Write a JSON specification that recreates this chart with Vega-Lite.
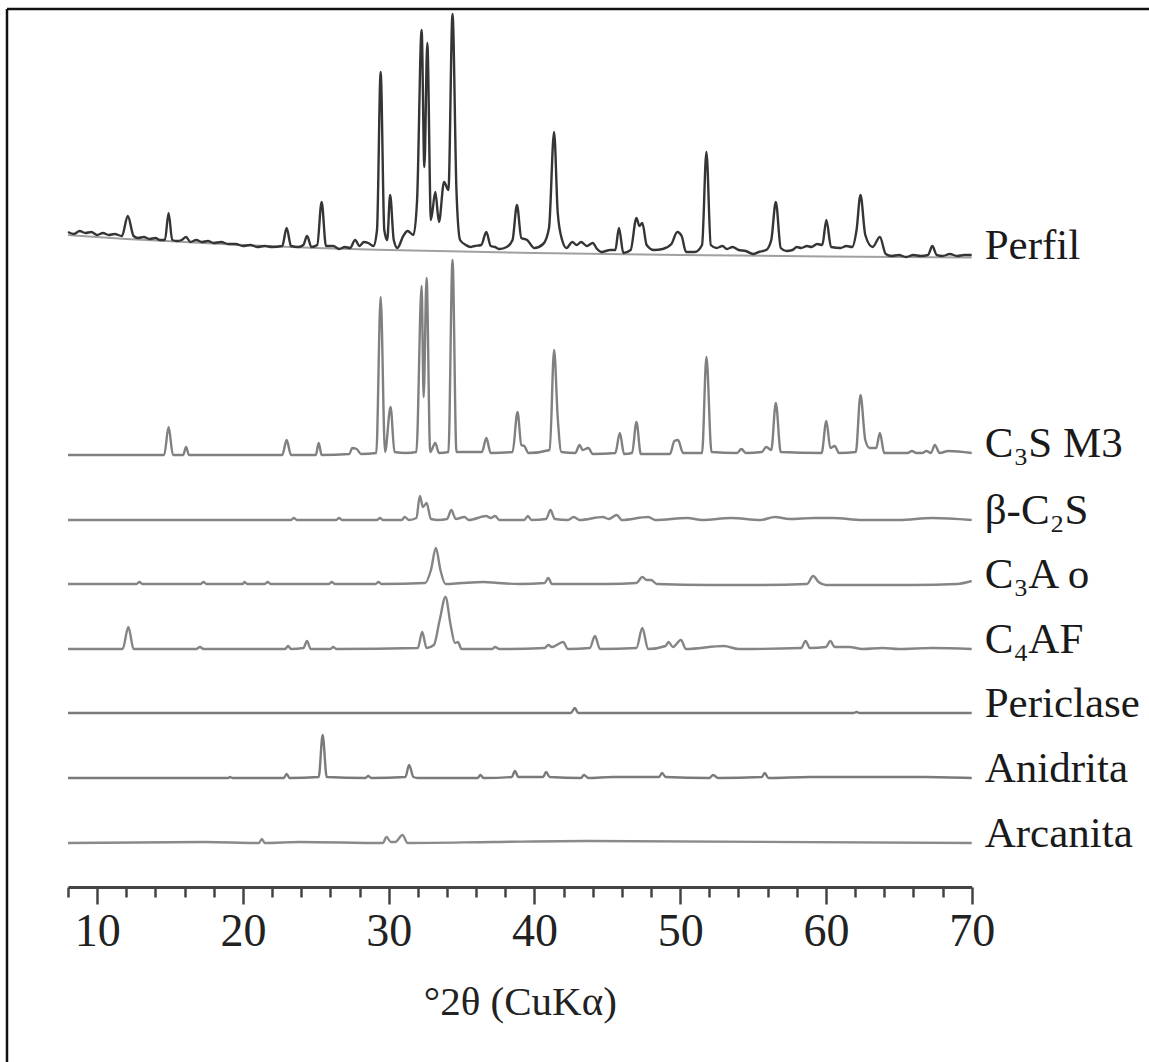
{
"$schema": "https://vega.github.io/schema/vega-lite/v6.json",
"width": 1142, "height": 1053,
"autosize": {"type": "none"},
"padding": {"left": 7, "top": 9, "right": 0, "bottom": 0},
"background": "white",
"config": {"view": {"stroke": "#111", "strokeWidth": 2.5, "strokeDash": [1142, 2195, 1053, 0]}, "font": "Liberation Serif"},
"datasets": {
"bg": [{"t":8,"v":652},{"t":12,"v":648},{"t":16,"v":645},{"t":20,"v":642},{"t":25,"v":639},{"t":30,"v":637},{"t":40,"v":634},{"t":50,"v":632},{"t":60,"v":630.5},{"t":70,"v":629.5}],
"labels": [{"label":"Perfil","t":70,"v":632},{"label":"C₃S M3","t":70,"v":434},{"label":"β-C₂S","t":70,"v":367},{"label":"C₃A o","t":70,"v":303},{"label":"C₄AF","t":70,"v":238},{"label":"Periclase","t":70,"v":174},{"label":"Anidrita","t":70,"v":109},{"label":"Arcanita","t":70,"v":44}],
"trace": [
{"p":"Perfil","t":8,"v":655},{"p":"Perfil","t":8.4,"v":653},{"p":"Perfil","t":8.8,"v":656},{"p":"Perfil","t":9.2,"v":654},{"p":"Perfil","t":9.6,"v":655},{"p":"Perfil","t":10,"v":652},{"p":"Perfil","t":10.4,"v":654},{"p":"Perfil","t":10.8,"v":652},{"p":"Perfil","t":11.2,"v":653},{"p":"Perfil","t":11.7,"v":651},{"p":"Perfil","t":12.1,"v":671},{"p":"Perfil","t":12.5,"v":651},{"p":"Perfil","t":12.8,"v":649},{"p":"Perfil","t":13.2,"v":650},{"p":"Perfil","t":13.6,"v":648},{"p":"Perfil","t":14,"v":649},{"p":"Perfil","t":14.3,"v":647},{"p":"Perfil","t":14.65,"v":647},{"p":"Perfil","t":14.9,"v":674},{"p":"Perfil","t":15.15,"v":647},{"p":"Perfil","t":15.5,"v":646},{"p":"Perfil","t":15.8,"v":647},{"p":"Perfil","t":16.1,"v":650},{"p":"Perfil","t":16.4,"v":645},{"p":"Perfil","t":16.8,"v":647},{"p":"Perfil","t":17.2,"v":645},{"p":"Perfil","t":17.6,"v":646},{"p":"Perfil","t":18,"v":644},{"p":"Perfil","t":18.5,"v":645},{"p":"Perfil","t":19,"v":643},{"p":"Perfil","t":19.5,"v":643},{"p":"Perfil","t":20,"v":641},{"p":"Perfil","t":20.5,"v":642},{"p":"Perfil","t":21,"v":640},{"p":"Perfil","t":21.5,"v":641},{"p":"Perfil","t":22,"v":640},{"p":"Perfil","t":22.7,"v":641},{"p":"Perfil","t":23,"v":659},{"p":"Perfil","t":23.3,"v":641},{"p":"Perfil","t":23.8,"v":640},{"p":"Perfil","t":24.15,"v":642},{"p":"Perfil","t":24.4,"v":651},{"p":"Perfil","t":24.7,"v":640},{"p":"Perfil","t":25.1,"v":642},{"p":"Perfil","t":25.4,"v":685},{"p":"Perfil","t":25.7,"v":641},{"p":"Perfil","t":26.2,"v":641},{"p":"Perfil","t":26.6,"v":638},{"p":"Perfil","t":27,"v":640},{"p":"Perfil","t":27.35,"v":639},{"p":"Perfil","t":27.7,"v":647},{"p":"Perfil","t":28,"v":641},{"p":"Perfil","t":28.3,"v":645},{"p":"Perfil","t":28.6,"v":644},{"p":"Perfil","t":28.95,"v":641},{"p":"Perfil","t":29.2,"v":657},{"p":"Perfil","t":29.45,"v":815},{"p":"Perfil","t":29.7,"v":657},{"p":"Perfil","t":29.9,"v":647},{"p":"Perfil","t":30.1,"v":692},{"p":"Perfil","t":30.35,"v":647},{"p":"Perfil","t":30.6,"v":639},{"p":"Perfil","t":31,"v":651},{"p":"Perfil","t":31.3,"v":656},{"p":"Perfil","t":31.7,"v":652},{"p":"Perfil","t":31.95,"v":687},{"p":"Perfil","t":32.26,"v":857},{"p":"Perfil","t":32.45,"v":720},{"p":"Perfil","t":32.65,"v":844},{"p":"Perfil","t":32.9,"v":667},{"p":"Perfil","t":33.2,"v":695},{"p":"Perfil","t":33.45,"v":665},{"p":"Perfil","t":33.8,"v":705},{"p":"Perfil","t":34.1,"v":697},{"p":"Perfil","t":34.38,"v":873},{"p":"Perfil","t":34.65,"v":697},{"p":"Perfil","t":34.9,"v":647},{"p":"Perfil","t":35.3,"v":642},{"p":"Perfil","t":35.6,"v":640},{"p":"Perfil","t":35.9,"v":641},{"p":"Perfil","t":36.35,"v":642},{"p":"Perfil","t":36.7,"v":655},{"p":"Perfil","t":37,"v":641},{"p":"Perfil","t":37.3,"v":640},{"p":"Perfil","t":37.6,"v":638},{"p":"Perfil","t":38.1,"v":640},{"p":"Perfil","t":38.5,"v":647},{"p":"Perfil","t":38.8,"v":682},{"p":"Perfil","t":39.1,"v":649},{"p":"Perfil","t":39.5,"v":647},{"p":"Perfil","t":40,"v":639},{"p":"Perfil","t":40.6,"v":643},{"p":"Perfil","t":41,"v":659},{"p":"Perfil","t":41.35,"v":755},{"p":"Perfil","t":41.6,"v":674},{"p":"Perfil","t":41.9,"v":647},{"p":"Perfil","t":42.2,"v":639},{"p":"Perfil","t":42.6,"v":645},{"p":"Perfil","t":42.9,"v":642},{"p":"Perfil","t":43.2,"v":645},{"p":"Perfil","t":43.6,"v":641},{"p":"Perfil","t":44,"v":644},{"p":"Perfil","t":44.3,"v":638},{"p":"Perfil","t":44.6,"v":635},{"p":"Perfil","t":45.2,"v":637},{"p":"Perfil","t":45.55,"v":637},{"p":"Perfil","t":45.8,"v":659},{"p":"Perfil","t":46.1,"v":634},{"p":"Perfil","t":46.6,"v":637},{"p":"Perfil","t":47,"v":669},{"p":"Perfil","t":47.2,"v":661},{"p":"Perfil","t":47.4,"v":664},{"p":"Perfil","t":47.7,"v":642},{"p":"Perfil","t":48.2,"v":637},{"p":"Perfil","t":48.8,"v":638},{"p":"Perfil","t":49.4,"v":643},{"p":"Perfil","t":49.8,"v":655},{"p":"Perfil","t":50.1,"v":651},{"p":"Perfil","t":50.4,"v":635},{"p":"Perfil","t":51,"v":635},{"p":"Perfil","t":51.5,"v":642},{"p":"Perfil","t":51.8,"v":735},{"p":"Perfil","t":52.1,"v":642},{"p":"Perfil","t":52.5,"v":639},{"p":"Perfil","t":52.9,"v":641},{"p":"Perfil","t":53.2,"v":638},{"p":"Perfil","t":53.6,"v":640},{"p":"Perfil","t":54,"v":637},{"p":"Perfil","t":54.5,"v":636},{"p":"Perfil","t":55,"v":633},{"p":"Perfil","t":55.4,"v":635},{"p":"Perfil","t":55.9,"v":637},{"p":"Perfil","t":56.25,"v":647},{"p":"Perfil","t":56.56,"v":685},{"p":"Perfil","t":56.9,"v":639},{"p":"Perfil","t":57.3,"v":636},{"p":"Perfil","t":57.7,"v":637},{"p":"Perfil","t":58,"v":640},{"p":"Perfil","t":58.3,"v":639},{"p":"Perfil","t":58.7,"v":641},{"p":"Perfil","t":59,"v":640},{"p":"Perfil","t":59.4,"v":643},{"p":"Perfil","t":59.75,"v":642},{"p":"Perfil","t":60.03,"v":667},{"p":"Perfil","t":60.35,"v":640},{"p":"Perfil","t":61,"v":639},{"p":"Perfil","t":61.4,"v":641},{"p":"Perfil","t":61.8,"v":640},{"p":"Perfil","t":62.1,"v":657},{"p":"Perfil","t":62.37,"v":692},{"p":"Perfil","t":62.7,"v":652},{"p":"Perfil","t":63.2,"v":640},{"p":"Perfil","t":63.7,"v":650},{"p":"Perfil","t":64.1,"v":633},{"p":"Perfil","t":64.5,"v":631},{"p":"Perfil","t":65,"v":632},{"p":"Perfil","t":65.5,"v":630},{"p":"Perfil","t":66,"v":632},{"p":"Perfil","t":66.5,"v":631},{"p":"Perfil","t":67,"v":632},{"p":"Perfil","t":67.3,"v":641},{"p":"Perfil","t":67.6,"v":632},{"p":"Perfil","t":68,"v":631},{"p":"Perfil","t":68.5,"v":633},{"p":"Perfil","t":69,"v":631},{"p":"Perfil","t":69.5,"v":632},{"p":"Perfil","t":70,"v":632},
{"p":"C3S","t":8,"v":432},{"p":"C3S","t":14.6,"v":432},{"p":"C3S","t":14.9,"v":460},{"p":"C3S","t":15.2,"v":432},{"p":"C3S","t":15.9,"v":432},{"p":"C3S","t":16.1,"v":440},{"p":"C3S","t":16.3,"v":432},{"p":"C3S","t":22.7,"v":432},{"p":"C3S","t":23,"v":447},{"p":"C3S","t":23.3,"v":432},{"p":"C3S","t":25,"v":432},{"p":"C3S","t":25.2,"v":444},{"p":"C3S","t":25.4,"v":432},{"p":"C3S","t":27.3,"v":433},{"p":"C3S","t":27.5,"v":439},{"p":"C3S","t":27.8,"v":438},{"p":"C3S","t":28.1,"v":433},{"p":"C3S","t":29.15,"v":434},{"p":"C3S","t":29.45,"v":590},{"p":"C3S","t":29.75,"v":435},{"p":"C3S","t":30.13,"v":480},{"p":"C3S","t":30.4,"v":435},{"p":"C3S","t":31.2,"v":434},{"p":"C3S","t":31.9,"v":435},{"p":"C3S","t":32.26,"v":601},{"p":"C3S","t":32.4,"v":490},{"p":"C3S","t":32.6,"v":609},{"p":"C3S","t":32.85,"v":435},{"p":"C3S","t":33.2,"v":444},{"p":"C3S","t":33.45,"v":434},{"p":"C3S","t":34.1,"v":435},{"p":"C3S","t":34.38,"v":627},{"p":"C3S","t":34.65,"v":435},{"p":"C3S","t":36.4,"v":435},{"p":"C3S","t":36.7,"v":449},{"p":"C3S","t":37,"v":434},{"p":"C3S","t":38.5,"v":435},{"p":"C3S","t":38.84,"v":475},{"p":"C3S","t":39.1,"v":442},{"p":"C3S","t":39.3,"v":441},{"p":"C3S","t":39.6,"v":434},{"p":"C3S","t":41.05,"v":437},{"p":"C3S","t":41.35,"v":537},{"p":"C3S","t":41.6,"v":469},{"p":"C3S","t":41.85,"v":435},{"p":"C3S","t":42.8,"v":434},{"p":"C3S","t":43.1,"v":442},{"p":"C3S","t":43.3,"v":437},{"p":"C3S","t":43.7,"v":439},{"p":"C3S","t":44,"v":433},{"p":"C3S","t":45.55,"v":434},{"p":"C3S","t":45.86,"v":454},{"p":"C3S","t":46.15,"v":433},{"p":"C3S","t":46.7,"v":434},{"p":"C3S","t":47,"v":465},{"p":"C3S","t":47.3,"v":433},{"p":"C3S","t":49.3,"v":433},{"p":"C3S","t":49.6,"v":446},{"p":"C3S","t":49.85,"v":447},{"p":"C3S","t":50.2,"v":434},{"p":"C3S","t":51.5,"v":434},{"p":"C3S","t":51.8,"v":530},{"p":"C3S","t":52.15,"v":435},{"p":"C3S","t":53.9,"v":434},{"p":"C3S","t":54.2,"v":438},{"p":"C3S","t":54.5,"v":434},{"p":"C3S","t":55.6,"v":435},{"p":"C3S","t":55.9,"v":440},{"p":"C3S","t":56.25,"v":437},{"p":"C3S","t":56.56,"v":484},{"p":"C3S","t":56.9,"v":435},{"p":"C3S","t":59.7,"v":434},{"p":"C3S","t":60.03,"v":466},{"p":"C3S","t":60.3,"v":439},{"p":"C3S","t":60.6,"v":441},{"p":"C3S","t":60.9,"v":434},{"p":"C3S","t":62.05,"v":435},{"p":"C3S","t":62.37,"v":492},{"p":"C3S","t":62.7,"v":447},{"p":"C3S","t":63,"v":439},{"p":"C3S","t":63.45,"v":439},{"p":"C3S","t":63.7,"v":454},{"p":"C3S","t":64,"v":434},{"p":"C3S","t":65.6,"v":434},{"p":"C3S","t":65.9,"v":436},{"p":"C3S","t":66.2,"v":434},{"p":"C3S","t":66.6,"v":434},{"p":"C3S","t":66.9,"v":436},{"p":"C3S","t":67.2,"v":434},{"p":"C3S","t":67.47,"v":442},{"p":"C3S","t":67.8,"v":434},{"p":"C3S","t":68.4,"v":436},{"p":"C3S","t":70,"v":434},
{"p":"C2S","t":8,"v":367},{"p":"C2S","t":23.3,"v":367},{"p":"C2S","t":23.5,"v":369},{"p":"C2S","t":23.7,"v":367},{"p":"C2S","t":26.4,"v":367},{"p":"C2S","t":26.6,"v":369},{"p":"C2S","t":26.8,"v":367},{"p":"C2S","t":29.2,"v":367},{"p":"C2S","t":29.4,"v":369},{"p":"C2S","t":29.6,"v":367},{"p":"C2S","t":30.9,"v":367},{"p":"C2S","t":31.1,"v":370},{"p":"C2S","t":31.4,"v":367},{"p":"C2S","t":31.9,"v":369},{"p":"C2S","t":32.14,"v":391},{"p":"C2S","t":32.35,"v":380},{"p":"C2S","t":32.6,"v":384},{"p":"C2S","t":32.9,"v":368},{"p":"C2S","t":33.4,"v":367},{"p":"C2S","t":34,"v":368},{"p":"C2S","t":34.3,"v":377},{"p":"C2S","t":34.6,"v":368},{"p":"C2S","t":35.2,"v":370},{"p":"C2S","t":35.5,"v":367},{"p":"C2S","t":36.7,"v":371},{"p":"C2S","t":37,"v":369},{"p":"C2S","t":37.3,"v":371},{"p":"C2S","t":37.6,"v":367},{"p":"C2S","t":39.3,"v":367},{"p":"C2S","t":39.55,"v":371},{"p":"C2S","t":39.8,"v":367},{"p":"C2S","t":40.8,"v":368},{"p":"C2S","t":41.1,"v":377},{"p":"C2S","t":41.4,"v":368},{"p":"C2S","t":42.3,"v":367},{"p":"C2S","t":42.7,"v":370},{"p":"C2S","t":43.1,"v":367},{"p":"C2S","t":44.7,"v":370},{"p":"C2S","t":45.1,"v":368},{"p":"C2S","t":45.65,"v":372},{"p":"C2S","t":46,"v":367},{"p":"C2S","t":47.8,"v":370},{"p":"C2S","t":48.3,"v":367},{"p":"C2S","t":50.5,"v":369},{"p":"C2S","t":51.5,"v":367},{"p":"C2S","t":53.5,"v":369},{"p":"C2S","t":55.5,"v":367},{"p":"C2S","t":56.5,"v":370},{"p":"C2S","t":57.5,"v":368},{"p":"C2S","t":59.2,"v":369},{"p":"C2S","t":60.5,"v":369},{"p":"C2S","t":62.5,"v":367},{"p":"C2S","t":65,"v":367},{"p":"C2S","t":67.3,"v":369},{"p":"C2S","t":70,"v":367},
{"p":"C3A","t":8,"v":303},{"p":"C3A","t":12.7,"v":303},{"p":"C3A","t":12.9,"v":305},{"p":"C3A","t":13.1,"v":303},{"p":"C3A","t":17.1,"v":303},{"p":"C3A","t":17.3,"v":305},{"p":"C3A","t":17.5,"v":303},{"p":"C3A","t":20,"v":303},{"p":"C3A","t":20.1,"v":305},{"p":"C3A","t":20.3,"v":303},{"p":"C3A","t":21.5,"v":303},{"p":"C3A","t":21.7,"v":305},{"p":"C3A","t":21.9,"v":303},{"p":"C3A","t":25.9,"v":303},{"p":"C3A","t":26.1,"v":305},{"p":"C3A","t":26.3,"v":303},{"p":"C3A","t":29.1,"v":303},{"p":"C3A","t":29.3,"v":305},{"p":"C3A","t":29.5,"v":303},{"p":"C3A","t":32.5,"v":304},{"p":"C3A","t":32.9,"v":317},{"p":"C3A","t":33.24,"v":339},{"p":"C3A","t":33.55,"v":317},{"p":"C3A","t":33.9,"v":303},{"p":"C3A","t":35,"v":304},{"p":"C3A","t":36.5,"v":305},{"p":"C3A","t":37.5,"v":304},{"p":"C3A","t":39,"v":303},{"p":"C3A","t":40.7,"v":304},{"p":"C3A","t":40.95,"v":309},{"p":"C3A","t":41.2,"v":303},{"p":"C3A","t":43,"v":303},{"p":"C3A","t":45,"v":303},{"p":"C3A","t":47,"v":304},{"p":"C3A","t":47.4,"v":310},{"p":"C3A","t":47.7,"v":307},{"p":"C3A","t":48,"v":307},{"p":"C3A","t":48.4,"v":303},{"p":"C3A","t":52,"v":302},{"p":"C3A","t":55,"v":302},{"p":"C3A","t":58.7,"v":303},{"p":"C3A","t":59.12,"v":311},{"p":"C3A","t":59.5,"v":305},{"p":"C3A","t":60,"v":302},{"p":"C3A","t":63,"v":302},{"p":"C3A","t":66,"v":302},{"p":"C3A","t":69,"v":303},{"p":"C3A","t":70,"v":306},
{"p":"C4AF","t":8,"v":238},{"p":"C4AF","t":11.75,"v":238},{"p":"C4AF","t":12.14,"v":260},{"p":"C4AF","t":12.5,"v":238},{"p":"C4AF","t":16.8,"v":238},{"p":"C4AF","t":17.05,"v":240},{"p":"C4AF","t":17.3,"v":238},{"p":"C4AF","t":22.9,"v":238},{"p":"C4AF","t":23.1,"v":241},{"p":"C4AF","t":23.3,"v":238},{"p":"C4AF","t":24.15,"v":239},{"p":"C4AF","t":24.4,"v":246},{"p":"C4AF","t":24.65,"v":238},{"p":"C4AF","t":26,"v":238},{"p":"C4AF","t":26.2,"v":240},{"p":"C4AF","t":26.4,"v":238},{"p":"C4AF","t":32,"v":239},{"p":"C4AF","t":32.3,"v":255},{"p":"C4AF","t":32.6,"v":239},{"p":"C4AF","t":33.1,"v":242},{"p":"C4AF","t":33.5,"v":267},{"p":"C4AF","t":33.9,"v":290},{"p":"C4AF","t":34.25,"v":262},{"p":"C4AF","t":34.55,"v":244},{"p":"C4AF","t":34.75,"v":245},{"p":"C4AF","t":35,"v":238},{"p":"C4AF","t":37.1,"v":238},{"p":"C4AF","t":37.3,"v":240},{"p":"C4AF","t":37.6,"v":238},{"p":"C4AF","t":40.7,"v":239},{"p":"C4AF","t":40.95,"v":242},{"p":"C4AF","t":41.2,"v":240},{"p":"C4AF","t":41.97,"v":245},{"p":"C4AF","t":42.3,"v":238},{"p":"C4AF","t":43.8,"v":239},{"p":"C4AF","t":44.15,"v":251},{"p":"C4AF","t":44.5,"v":238},{"p":"C4AF","t":47,"v":239},{"p":"C4AF","t":47.4,"v":259},{"p":"C4AF","t":47.8,"v":238},{"p":"C4AF","t":49,"v":241},{"p":"C4AF","t":49.2,"v":245},{"p":"C4AF","t":49.5,"v":240},{"p":"C4AF","t":50.05,"v":247},{"p":"C4AF","t":50.4,"v":238},{"p":"C4AF","t":53,"v":241},{"p":"C4AF","t":54,"v":238},{"p":"C4AF","t":58.3,"v":239},{"p":"C4AF","t":58.6,"v":246},{"p":"C4AF","t":58.9,"v":239},{"p":"C4AF","t":60,"v":240},{"p":"C4AF","t":60.3,"v":246},{"p":"C4AF","t":60.6,"v":240},{"p":"C4AF","t":61.6,"v":240},{"p":"C4AF","t":62.5,"v":238},{"p":"C4AF","t":63.9,"v":239},{"p":"C4AF","t":65,"v":238},{"p":"C4AF","t":67.3,"v":239},{"p":"C4AF","t":70,"v":238},
{"p":"Periclase","t":8,"v":174},{"p":"Periclase","t":42.5,"v":174},{"p":"Periclase","t":42.77,"v":179},{"p":"Periclase","t":43,"v":174},{"p":"Periclase","t":61.9,"v":174},{"p":"Periclase","t":62.1,"v":175},{"p":"Periclase","t":62.3,"v":174},{"p":"Periclase","t":70,"v":174},
{"p":"Anidrita","t":8,"v":109},{"p":"Anidrita","t":19,"v":109},{"p":"Anidrita","t":19.1,"v":110},{"p":"Anidrita","t":19.3,"v":109},{"p":"Anidrita","t":22.8,"v":109},{"p":"Anidrita","t":23,"v":113},{"p":"Anidrita","t":23.2,"v":109},{"p":"Anidrita","t":25.2,"v":110},{"p":"Anidrita","t":25.47,"v":152},{"p":"Anidrita","t":25.75,"v":110},{"p":"Anidrita","t":28.4,"v":109},{"p":"Anidrita","t":28.6,"v":111},{"p":"Anidrita","t":28.8,"v":109},{"p":"Anidrita","t":31.15,"v":110},{"p":"Anidrita","t":31.4,"v":122},{"p":"Anidrita","t":31.7,"v":110},{"p":"Anidrita","t":32,"v":109},{"p":"Anidrita","t":36.1,"v":109},{"p":"Anidrita","t":36.3,"v":112},{"p":"Anidrita","t":36.5,"v":109},{"p":"Anidrita","t":38.45,"v":110},{"p":"Anidrita","t":38.66,"v":116},{"p":"Anidrita","t":38.9,"v":110},{"p":"Anidrita","t":40.6,"v":110},{"p":"Anidrita","t":40.8,"v":115},{"p":"Anidrita","t":41.05,"v":110},{"p":"Anidrita","t":43.2,"v":109},{"p":"Anidrita","t":43.4,"v":112},{"p":"Anidrita","t":43.7,"v":109},{"p":"Anidrita","t":45.4,"v":110},{"p":"Anidrita","t":46.8,"v":110},{"p":"Anidrita","t":48.55,"v":110},{"p":"Anidrita","t":48.76,"v":114},{"p":"Anidrita","t":49,"v":110},{"p":"Anidrita","t":52,"v":109},{"p":"Anidrita","t":52.26,"v":112},{"p":"Anidrita","t":52.6,"v":109},{"p":"Anidrita","t":55.6,"v":110},{"p":"Anidrita","t":55.8,"v":114},{"p":"Anidrita","t":56.05,"v":109},{"p":"Anidrita","t":58.9,"v":110},{"p":"Anidrita","t":62.2,"v":110},{"p":"Anidrita","t":66.8,"v":110},{"p":"Anidrita","t":70,"v":109},
{"p":"Arcanita","t":8,"v":44},{"p":"Arcanita","t":17.4,"v":45},{"p":"Arcanita","t":21.1,"v":44},{"p":"Arcanita","t":21.3,"v":48},{"p":"Arcanita","t":21.5,"v":44},{"p":"Arcanita","t":23.9,"v":45},{"p":"Arcanita","t":29.6,"v":44},{"p":"Arcanita","t":29.85,"v":50},{"p":"Arcanita","t":30.15,"v":45},{"p":"Arcanita","t":30.45,"v":45},{"p":"Arcanita","t":30.95,"v":52},{"p":"Arcanita","t":31.3,"v":44},{"p":"Arcanita","t":37.15,"v":45},{"p":"Arcanita","t":43.6,"v":46},{"p":"Arcanita","t":70,"v":44}
]
},
"encoding": {
"x": {"field": "t", "type": "quantitative",
 "scale": {"domain": [8, 70], "range": [61, 964.7], "nice": false, "zero": false},
 "axis": {"title": "°2θ (CuKα)", "values": [8,10,12,14,16,18,20,22,24,26,28,30,32,34,36,38,40,42,44,46,48,50,52,54,56,58,60,62,64,66,68,70],
  "labelExpr": "datum.value % 10 === 0 ? datum.label : ''",
  "tickSize": {"condition": {"test": "datum.value % 10 === 0", "value": 17}, "value": 10},
  "offset": -175, "grid": false,
  "domainColor": "#444", "domainWidth": 3, "tickColor": "#444", "tickWidth": 2.5,
  "labelFont": "Liberation Serif", "labelFontSize": 46, "labelColor": "#222", "labelPadding": 5, "labelFlush": false, "labelOverlap": false,
  "titleFont": "Liberation Serif", "titleFontSize": 41, "titleFontWeight": "normal", "titleColor": "#222", "titlePadding": 28}},
"y": {"field": "v", "type": "quantitative", "scale": {"domain": [-175, 878], "nice": false, "zero": false}, "axis": null}
},
"layer": [
{"data": {"name": "bg"}, "mark": {"type": "line", "color": "#a0a0a0", "strokeWidth": 2, "interpolate": "monotone"}},
{"data": {"name": "trace"}, "mark": {"type": "line", "strokeWidth": 2.4, "strokeJoin": "round", "interpolate": "monotone"},
 "encoding": {"color": {"field": "p", "type": "nominal", "legend": null,
  "scale": {"domain": ["Perfil","C3S","C2S","C3A","C4AF","Periclase","Anidrita","Arcanita"],
   "range": ["#353535","#808080","#858585","#858585","#858585","#7a7a7a","#7a7a7a","#8a8a8a"]}}}},
{"data": {"name": "labels"}, "mark": {"type": "text", "align": "left", "baseline": "alphabetic", "dx": 13, "dy": 4, "font": "Liberation Serif", "fontSize": 43, "color": "#1a1a1a"},
 "encoding": {"text": {"field": "label"}}}
]
}
